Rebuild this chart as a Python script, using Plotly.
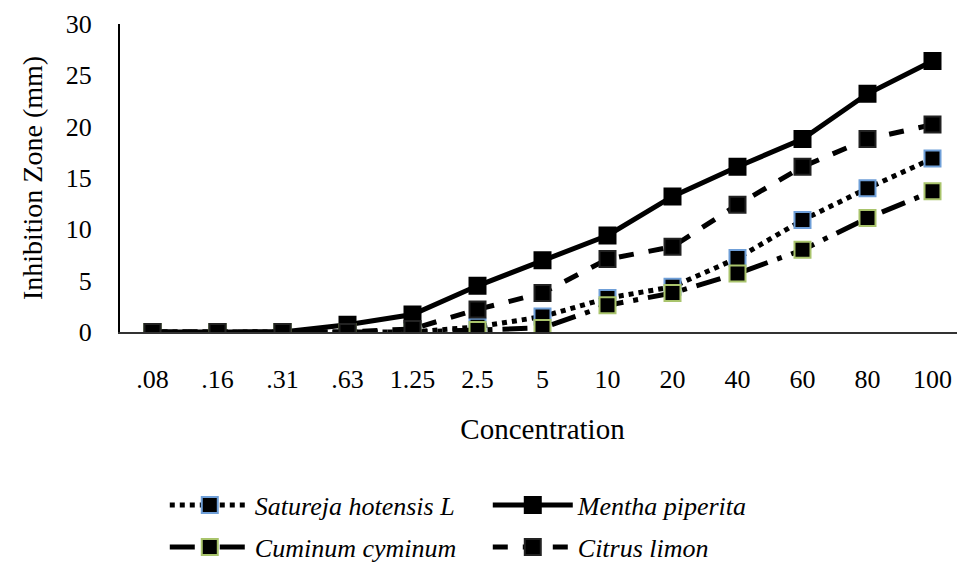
import plotly.graph_objects as go

concentration = [".08", ".16", ".31", ".63", "1.25", "2.5", "5", "10", "20", "40", "60", "80", "100"]
satureja = [0, 0, 0, 0, 0, 0.5, 1.5, 3.3, 4.4, 7.2, 10.9, 14.0, 16.9]
mentha = [0, 0, 0, 0.7, 1.7, 4.5, 7.0, 9.4, 13.2, 16.1, 18.8, 23.2, 26.4]
cuminum = [0, 0, 0, 0, 0, 0.2, 0.4, 2.6, 3.8, 5.7, 8.0, 11.1, 13.7]
citrus = [0, 0, 0, 0, 0.3, 2.2, 3.8, 7.1, 8.3, 12.4, 16.1, 18.8, 20.2]

FONT = "Liberation Serif"

fig = go.Figure()

def add(name, y, dash, mline, legend, symbol="square"):
    fig.add_trace(go.Scatter(
        x=concentration, y=y, name=name, mode="lines+markers",
        line=dict(color="black", width=5, dash=dash),
        marker=dict(symbol=symbol, size=16, color="black",
                    line=dict(color=mline, width=2)),
        legend=legend,
    ))

add("Satureja hotensis L", satureja, "dot", "#6f9fd8", "legend")
add("Mentha piperita", mentha, "solid", "black", "legend")
add("Cuminum cyminum", cuminum, "longdashdot", "#a9c46c", "legend2")
add("Citrus limon", citrus, "dash", "#222222", "legend2")

legend_common = dict(orientation="h", xanchor="left", yanchor="middle",
                     font=dict(family=FONT, size=26, color="black", style="italic"),
                     itemwidth=80, entrywidth=228, entrywidthmode="pixels",
                     bgcolor="rgba(0,0,0,0)", tracegroupgap=0)

fig.update_layout(
    width=957, height=559,
    paper_bgcolor="white", plot_bgcolor="white",
    margin=dict(l=112, r=0, t=16, b=235, autoexpand=False),
    font=dict(family=FONT, size=26, color="black"),
    showlegend=True,
    legend=dict(x=0.053, y=-0.562, **legend_common),
    legend2=dict(x=0.053, y=-0.698, **legend_common),
    xaxis=dict(
        type="category", range=[-0.5, 12.5],
        showline=True, linecolor="#333333", linewidth=1.5,
        showgrid=False, zeroline=False,
        ticks="outside", ticklen=23, tickcolor="rgba(0,0,0,0)",
        tickfont=dict(family=FONT, size=26),
        title=dict(text="Concentration", font=dict(family=FONT, size=29), standoff=26),
    ),
    yaxis=dict(
        range=[0, 30], dtick=5,
        showline=True, linecolor="black", linewidth=2,
        showgrid=False, zeroline=False,
        ticks="outside", ticklen=21, tickcolor="rgba(0,0,0,0)",
        tickfont=dict(family=FONT, size=26),
        title=dict(text="Inhibition Zone (mm)", font=dict(family=FONT, size=28), standoff=15),
    ),
)

fig.write_html("out.html")
